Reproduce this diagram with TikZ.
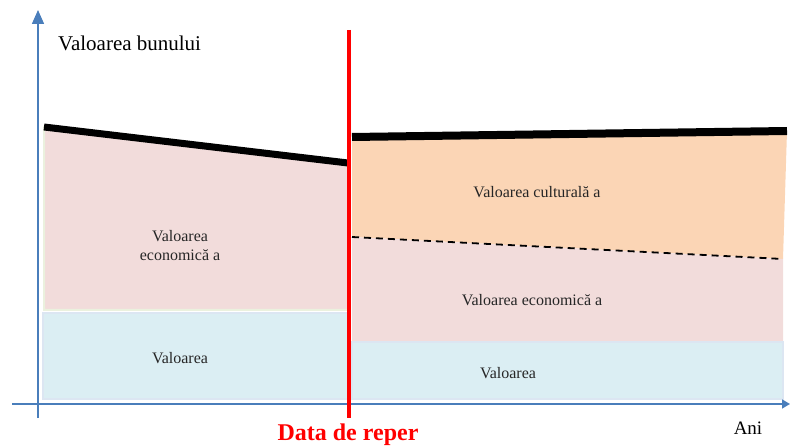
\documentclass[tikz,border=0pt]{standalone}
\usepackage{fontspec}
\setmainfont{Liberation Serif}
\newfontfamily\tnr{Liberation Serif}
\usetikzlibrary{arrows.meta}
\definecolor{pinkf}{HTML}{F2DCDB}
\definecolor{orangef}{HTML}{FBD5B5}
\definecolor{bluef}{HTML}{DBEEF3}
\definecolor{blueb}{HTML}{DCE6F2}
\definecolor{yellb}{HTML}{EBF1DE}
\definecolor{axisc}{HTML}{4A7EBB}
\tikzset{
  axisline/.style={draw=axisc, line width=1.5pt},
  bigline/.style={line width=7pt, black},
  lbl/.style={font=\tnr\fontsize{16}{19}\selectfont, text=black!85, align=center, inner sep=0pt},
}
\begin{document}
\begin{tikzpicture}[x=1pt,y=-1pt]
\useasboundingbox (0,0) rectangle (790,446);
% left regions
\fill[pinkf, draw=yellb, line width=2pt] (44,127) -- (348,163) -- (348,310) -- (44,310) -- cycle;
\fill[bluef, draw=blueb, line width=2pt] (43,313) rectangle (348,399);
% right regions
\fill[orangef] (352,139) -- (787,131) -- (783,259) -- (352,237) -- cycle;
\fill[pinkf] (352,237) -- (783,259) -- (783,341) -- (352,341) -- cycle;
\fill[bluef, draw=blueb, line width=2pt] (352,342) rectangle (783,399);
% coordinates
\coordinate (yb) at (38,418);
\coordinate (yt) at (38,10);
\coordinate (xl) at (12,404);
\coordinate (xr) at (790,404);
\coordinate (l1) at (44,127);
\coordinate (l2) at (348,163);
\coordinate (r1) at (352,137);
\coordinate (r2) at (787,131);
\coordinate (d1) at (352,237);
\coordinate (d2) at (783,259);
\coordinate (rt) at (349,30);
\coordinate (rb) at (349,418);
% axes
\draw[axisline, -{Triangle[length=14pt,width=12pt]}] (yb) -- (yt);
\draw[axisline, -{Triangle[length=8pt,width=9pt]}] (xl) -- (xr);
% dashed line
\draw[black, line width=1.8pt, dash pattern=on 7pt off 5pt] (d1) -- (d2);
% thick lines
\draw[bigline] (l1) -- (l2);
\draw[bigline, line width=8pt] (r1) -- (r2);
% red line
\draw[red, line width=3.2pt] (rt) -- (rb);
% texts
\node[anchor=west, font=\tnr\fontsize{21}{24}\selectfont, inner sep=0pt] (tval) at (58,43) {Valoarea bunului};
\node[font=\tnr\fontsize{24}{28}\selectfont\bfseries, text=red, inner sep=0pt] (tdata) at (348,435) {Data de reper};
\node[font=\tnr\fontsize{19}{22}\selectfont, inner sep=0pt] (tani) at (748,428) {Ani};
\node[lbl] (tecl) at (180,246) {Valoarea\\economică a};
\node[lbl] (tvl) at (180,358) {Valoarea};
\node[lbl] (tcul) at (537,192) {Valoarea culturală a};
\node[lbl] (tecr) at (532,300) {Valoarea economică a};
\node[lbl] (tvr) at (508,373) {Valoarea};
\end{tikzpicture}
\end{document}
